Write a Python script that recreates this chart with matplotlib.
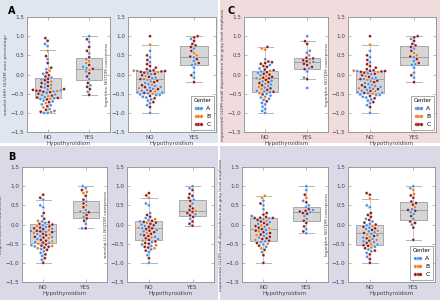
"""Swarm + box plots of radiomic features by hypothyroidism status, four panels."""

import matplotlib
matplotlib.use('Agg')
import matplotlib.pyplot as plt
from matplotlib.lines import Line2D
from matplotlib.patches import Rectangle
import pandas as pd
import seaborn as sns

# ---- data ----
categories = ['NO', 'YES']
centers = ['A', 'B', 'C']
center_colors = {'A': '#4c8fe0', 'B': '#f07c1a', 'C': '#8e1f1f'}

# wavelet HHH GLSZM zone percentage
hhh_no = [0.95, 0.88, 0.80, 0.74, 0.62, 0.48, 0.40, 0.30, 0.18, 0.14,
          0.10, 0.05, 0.02, -0.02, -0.05, -0.08, -0.11, -0.13, -0.15, -0.18,
          -0.20, -0.22, -0.25, -0.27, -0.30, -0.32, -0.34, -0.36, -0.38, -0.39,
          -0.40, -0.41, -0.42, -0.42, -0.43, -0.44, -0.45, -0.46, -0.48, -0.50,
          -0.52, -0.53, -0.55, -0.56, -0.58, -0.60, -0.61, -0.62, -0.63, -0.64,
          -0.65, -0.68, -0.70, -0.72, -0.75, -0.78, -0.80, -0.83, -0.86, -0.90,
          -0.92, -0.95, -0.97, -0.98, -1.00, -1.00]
hhh_no_c = "CCAAB CACCA BCACC ACACB CCAAC CABCA CACCB ACCAC AACBA CCABA CAACB AACBA CACBA A"
hhh_yes = [1.00, 0.92, 0.85, 0.72, 0.62, 0.55, 0.45, 0.40, 0.35, 0.30,
           0.25, 0.20, 0.17, 0.15, 0.12, 0.08, 0.03, -0.05, -0.12, -0.22,
           -0.28, -0.32, -0.38, -0.45, -0.53]
hhh_yes_c = "ACACC ACABB CAACB ACCAC ACCAC"
hhh_box_no = [-0.62, -0.42, -0.10, -1.00, 0.65]     # q1, median, q3, low, high
hhh_box_yes = [-0.15, 0.15, 0.42, -0.53, 1.00]

# logarithm NGTDM coarseness (panels A and C)
lng_no = [1.00, 0.78, 0.62, 0.50, 0.45, 0.38, 0.32, 0.27, 0.22, 0.18,
          0.14, 0.11, 0.10, 0.10, 0.09, 0.09, 0.08, 0.07, 0.06, 0.05,
          0.03, 0.02, 0.01, -0.02, -0.04, -0.06, -0.08, -0.10, -0.12, -0.12,
          -0.14, -0.16, -0.18, -0.20, -0.22, -0.25, -0.27, -0.28, -0.30, -0.32,
          -0.33, -0.34, -0.36, -0.37, -0.38, -0.40, -0.42, -0.43, -0.44, -0.46,
          -0.47, -0.48, -0.49, -0.50, -0.52, -0.53, -0.54, -0.56, -0.58, -0.60,
          -0.62, -0.65, -0.68, -0.72, -0.75, -0.80, -0.85, -1.00]
lng_no_c = "CBACA CACCC CCBCC ACCBC ACACB CAACA BCACA ABCAA CABAC AACBA ACABA AACAA CAACA ACA"
lng_yes = [1.00, 0.97, 0.93, 0.88, 0.80, 0.76, 0.72, 0.68, 0.62, 0.56,
           0.50, 0.47, 0.45, 0.40, 0.35, 0.30, 0.27, 0.25, 0.18, 0.05,
           -0.02, -0.08, -0.20]
lng_yes_c = "CCACC CCACB BCACA CAAAA CAC"
lng_box_no = [-0.47, -0.12, 0.10, -1.00, 0.78]
lng_box_yes = [0.26, 0.47, 0.75, -0.20, 1.00]

# exponential GLDM small dependence low gray level emphasis (panel C)
gldm1_no = [0.72, 0.68, 0.65, 0.40, 0.34, 0.32, 0.30, 0.28, 0.25, 0.22,
            0.20, 0.16, 0.13, 0.11, 0.10, 0.08, 0.06, 0.04, 0.02, 0.00,
            -0.02, -0.04, -0.06, -0.08, -0.10, -0.10, -0.12, -0.14, -0.16, -0.18,
            -0.20, -0.22, -0.24, -0.26, -0.28, -0.30, -0.32, -0.34, -0.36, -0.38,
            -0.40, -0.42, -0.44, -0.45, -0.46, -0.48, -0.50, -0.52, -0.55, -0.58,
            -0.60, -0.63, -0.66, -0.70, -0.74, -0.78, -0.84, -0.90, -0.95, -1.00]
gldm1_no_c = "CBBAC CCCAC CACCB ACACC ABCCA CBCAA CCBAC ABACB CAACA BACAB AAACA AAAAA"
gldm1_yes = [1.00, 0.87, 0.80, 0.62, 0.57, 0.50, 0.44, 0.42, 0.40, 0.37,
             0.35, 0.33, 0.31, 0.28, 0.25, 0.20, 0.16, 0.14, 0.08, -0.08,
             -0.12, -0.35]
gldm1_yes_c = "ACCAA BCCAC CABCC CACAA CA"
gldm1_box_no = [-0.45, -0.10, 0.10, -1.00, 0.72]
gldm1_box_yes = [0.15, 0.33, 0.44, -0.12, 0.87]

# original NGTDM coarseness (panel B)
orig_no = [0.78, 0.70, 0.65, 0.50, 0.45, 0.30, 0.22, 0.15, 0.10, 0.08,
           0.06, 0.04, 0.02, 0.00, -0.02, -0.04, -0.05, -0.06, -0.08, -0.10,
           -0.11, -0.12, -0.14, -0.16, -0.17, -0.18, -0.19, -0.20, -0.22, -0.24,
           -0.25, -0.26, -0.28, -0.30, -0.32, -0.33, -0.34, -0.36, -0.38, -0.40,
           -0.42, -0.44, -0.46, -0.47, -0.48, -0.50, -0.52, -0.54, -0.55, -0.56,
           -0.57, -0.58, -0.60, -0.62, -0.64, -0.66, -0.70, -0.74, -0.78, -0.82,
           -0.88, -0.92, -1.00]
orig_no_c = "CCAAA CACBA CACCA BCACC ACBCA CACBC ABCAC ACBAC CBACA BCACB ACCBA CAACA CAC"
orig_yes = [1.00, 0.95, 0.90, 0.85, 0.82, 0.75, 0.65, 0.60, 0.55, 0.50,
            0.45, 0.38, 0.34, 0.32, 0.30, 0.25, 0.20, 0.16, 0.10, 0.02,
            -0.10, -0.10]
orig_yes_c = "AACBB CCACB CAACB CACCA CA"
orig_box_no = [-0.47, -0.17, 0.02, -1.00, 0.65]
orig_box_yes = [0.16, 0.33, 0.62, -0.10, 1.00]

# wavelet LLL NGTDM coarseness (panel B)
lll_no = [0.82, 0.76, 0.70, 0.55, 0.50, 0.30, 0.25, 0.20, 0.17, 0.14,
          0.12, 0.10, 0.08, 0.07, 0.05, 0.04, 0.02, 0.00, -0.02, -0.04,
          -0.06, -0.08, -0.10, -0.10, -0.12, -0.14, -0.16, -0.18, -0.20, -0.22,
          -0.24, -0.26, -0.28, -0.30, -0.32, -0.34, -0.36, -0.38, -0.40, -0.42,
          -0.44, -0.46, -0.48, -0.50, -0.52, -0.54, -0.56, -0.58, -0.60, -0.62,
          -0.65, -0.68, -0.72, -0.80, -0.88, -1.00]
lll_no_c = "CCBAA ACCAB ACACC BCACA CBACC ACACB CACCA BCACB CACCA BACCB ACAAC A"
lll_yes = [1.00, 0.95, 0.90, 0.80, 0.75, 0.70, 0.65, 0.62, 0.55, 0.48,
           0.42, 0.38, 0.36, 0.33, 0.30, 0.27, 0.24, 0.20, 0.15, 0.08,
           0.02, -0.03]
lll_yes_c = "AACCC CACAC CCBCC ACCAC CC"
lll_box_no = [-0.40, -0.10, 0.08, -1.00, 0.70]
lll_box_yes = [0.22, 0.36, 0.65, -0.03, 1.00]

# exponential GLDM small dependence low gray level emphasis (panel D)
gldm2_no = [0.75, 0.70, 0.62, 0.55, 0.50, 0.40, 0.30, 0.26, 0.22, 0.20,
            0.18, 0.17, 0.17, 0.16, 0.14, 0.12, 0.10, 0.08, 0.06, 0.04,
            0.02, 0.00, -0.02, -0.04, -0.06, -0.08, -0.10, -0.12, -0.14, -0.16,
            -0.18, -0.20, -0.22, -0.24, -0.26, -0.28, -0.30, -0.32, -0.34, -0.36,
            -0.38, -0.40, -0.42, -0.44, -0.46, -0.48, -0.50, -0.52, -0.55, -0.58,
            -0.62, -0.66, -0.72, -0.80, -1.00]
gldm2_no_c = "BBACA ACCAC CCCAA CBCAC ACBCA CBCAC BCCAC BACAC CBCAA CBACA BCACC"
gldm2_yes = [1.00, 0.90, 0.78, 0.70, 0.62, 0.58, 0.50, 0.45, 0.40, 0.38,
             0.36, 0.34, 0.32, 0.30, 0.28, 0.22, 0.15, 0.10, 0.04, -0.05,
             -0.12, -0.18, -0.23]
gldm2_yes_c = "AACBA CAACA CCACC AACCC ACA"
gldm2_box_no = [-0.42, -0.12, 0.16, -1.00, 0.75]
gldm2_box_yes = [0.08, 0.33, 0.46, -0.23, 1.00]

# logarithm NGTDM coarseness (panel D)
lng2_no = [0.82, 0.78, 0.68, 0.50, 0.45, 0.30, 0.25, 0.20, 0.15, 0.12,
           0.08, 0.05, 0.02, 0.00, -0.02, -0.04, -0.06, -0.08, -0.10, -0.12,
           -0.14, -0.16, -0.18, -0.20, -0.22, -0.24, -0.26, -0.28, -0.30, -0.32,
           -0.34, -0.36, -0.38, -0.40, -0.42, -0.44, -0.46, -0.48, -0.50, -0.52,
           -0.54, -0.56, -0.58, -0.60, -0.62, -0.65, -0.68, -0.70, -0.74, -0.78,
           -0.84, -0.90, -1.00]
lng2_no_c = "CCBAA CCCAC ACACA BCACA CBAAC ABACB ACABC AACBA CCABC ACAAC ACC"
lng2_yes = [1.00, 0.95, 0.90, 0.80, 0.76, 0.70, 0.60, 0.56, 0.52, 0.45,
            0.40, 0.38, 0.36, 0.32, 0.28, 0.22, 0.15, 0.08, 0.04, 0.00,
            -0.08, -0.40]
lng2_yes_c = "AABBC CCCCB ACCAA CACCA CC"
lng2_box_no = [-0.53, -0.22, -0.02, -1.00, 0.68]
lng2_box_yes = [0.13, 0.37, 0.59, -0.40, 1.00]

yticks = [-1.5, -1.0, -0.5, 0.0, 0.5, 1.0, 1.5]


def box_stats(box):
    q1, med, q3, lo, hi = box
    return dict(q1=q1, med=med, q3=q3, whislo=lo, whishi=hi, fliers=[])


def draw_panel(ax, no_vals, no_c, yes_vals, yes_c, box_no, box_yes, ylabel,
               legend=False):
    no_c = no_c.replace(" ", "")
    yes_c = yes_c.replace(" ", "")
    assert len(no_c) == len(no_vals) and len(yes_c) == len(yes_vals), ylabel
    df = pd.DataFrame({
        'Hypothyroidism': ['NO'] * len(no_vals) + ['YES'] * len(yes_vals),
        'value': no_vals + yes_vals,
        'Center': list(no_c + yes_c),
    })

    ax.bxp([box_stats(box_no), box_stats(box_yes)], positions=[0, 1],
           widths=0.62, capwidths=0.36, patch_artist=True, showfliers=False,
           boxprops=dict(facecolor='#d6d6d6', edgecolor='#a8a8a8', lw=0.7),
           medianprops=dict(color='#a0a0a0', lw=0.7),
           whiskerprops=dict(color='#c4c4c4', lw=0.7),
           capprops=dict(color='#b4b4b4', lw=0.7), zorder=1)

    sns.swarmplot(data=df, x='Hypothyroidism', y='value', hue='Center',
                  order=categories, hue_order=centers, palette=center_colors,
                  size=2.2, linewidth=0.25, edgecolor='white', legend=False,
                  ax=ax, zorder=3)

    ax.set_xlim(-0.5, 1.5)
    ax.set_ylim(-1.5, 1.5)
    ax.set_yticks(yticks)
    ax.set_xticks([0, 1])
    ax.set_xticklabels(categories)
    ax.set_facecolor('white')
    for s in ax.spines.values():
        s.set_color('#9a9a9a')
        s.set_linewidth(0.7)
    ax.tick_params(direction='in', length=2, width=0.5, color='#9a9a9a',
                   top=True, right=True, labelsize=4.1, pad=2,
                   labelcolor='#444444')
    ax.set_xlabel('Hypothyroidism', fontsize=4.1, labelpad=1.2, color='#444444')
    ax.set_ylabel(ylabel, fontsize=3.05, labelpad=2, color='#444444')

    if legend:
        handles = [Line2D([0], [0], marker='o', ls='', color=center_colors[c],
                          markersize=2.5, markeredgecolor='white',
                          markeredgewidth=0.2) for c in centers]
        leg = ax.legend(handles, centers, title='Center', loc='lower right',
                        numpoints=3, fontsize=4.4, title_fontsize=3.9,
                        handlelength=1.3, handletextpad=0.6, borderpad=0.45,
                        labelspacing=0.45, fancybox=False, framealpha=1,
                        borderaxespad=0.3)
        leg.get_frame().set_edgecolor('#9a9a9a')
        leg.get_frame().set_linewidth(0.6)


fig = plt.figure(figsize=(4.4, 3.0), dpi=100)
fig.patch.set_facecolor('white')

# panel backgrounds (x, y, w, h in figure fraction)
backgrounds = [
    ((0.0, 0.522), 0.495, 0.478, '#dfe6ef'),
    ((0.501, 0.522), 0.499, 0.478, '#f1dcdd'),
    ((0.0, 0.0), 0.495, 0.512, '#d9d9e8'),
    ((0.501, 0.0), 0.499, 0.512, '#d9d9e8'),
]
for (x0, y0), w, h, col in backgrounds:
    fig.patches.append(Rectangle((x0, y0), w, h, transform=fig.transFigure,
                                 facecolor=col, edgecolor='none', zorder=-10))

ax_a1 = fig.add_axes([0.061, 0.560, 0.189, 0.383])
ax_a2 = fig.add_axes([0.291, 0.560, 0.200, 0.383])
ax_c1 = fig.add_axes([0.555, 0.560, 0.191, 0.383])
ax_c2 = fig.add_axes([0.791, 0.560, 0.200, 0.383])
ax_b1 = fig.add_axes([0.050, 0.060, 0.193, 0.383])
ax_b2 = fig.add_axes([0.289, 0.060, 0.198, 0.383])
ax_d1 = fig.add_axes([0.550, 0.060, 0.195, 0.383])
ax_d2 = fig.add_axes([0.791, 0.060, 0.198, 0.383])

draw_panel(ax_a1, hhh_no, hhh_no_c, hhh_yes, hhh_yes_c, hhh_box_no,
           hhh_box_yes, 'wavelet HHH GLSZM zone percentage')
draw_panel(ax_a2, lng_no, lng_no_c, lng_yes, lng_yes_c, lng_box_no,
           lng_box_yes, 'logarithm NGTDM coarseness', legend=True)
draw_panel(ax_c1, gldm1_no, gldm1_no_c, gldm1_yes, gldm1_yes_c, gldm1_box_no,
           gldm1_box_yes,
           'exponential GLDM small dependence low gray level emphasis')
draw_panel(ax_c2, lng_no, lng_no_c, lng_yes, lng_yes_c, lng_box_no,
           lng_box_yes, 'logarithm NGTDM coarseness', legend=True)
draw_panel(ax_b1, orig_no, orig_no_c, orig_yes, orig_yes_c, orig_box_no,
           orig_box_yes, 'original NGTDM coarseness')
draw_panel(ax_b2, lll_no, lll_no_c, lll_yes, lll_yes_c, lll_box_no,
           lll_box_yes, 'wavelet LLL NGTDM coarseness')
draw_panel(ax_d1, gldm2_no, gldm2_no_c, gldm2_yes, gldm2_yes_c, gldm2_box_no,
           gldm2_box_yes,
           'exponential GLDM small dependence low gray level emphasis')
draw_panel(ax_d2, lng2_no, lng2_no_c, lng2_yes, lng2_yes_c, lng2_box_no,
           lng2_box_yes, 'logarithm NGTDM coarseness', legend=True)

# panel letters
fig.text(0.018, 0.965, 'A', fontsize=7, fontweight='bold', va='center')
fig.text(0.516, 0.965, 'C', fontsize=7, fontweight='bold', va='center')
fig.text(0.018, 0.475, 'B', fontsize=7, fontweight='bold', va='center')

fig.savefig('out.png', dpi=100, facecolor=fig.get_facecolor())
